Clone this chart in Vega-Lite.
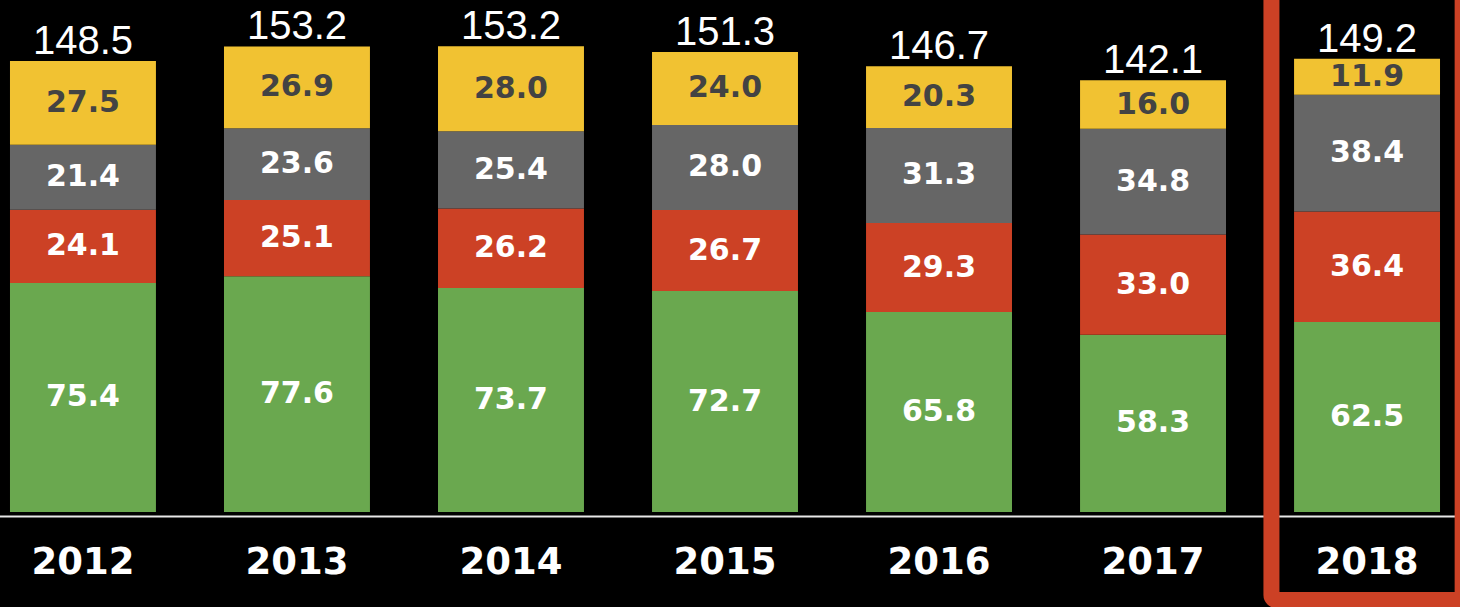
{
  "$schema": "https://vega.github.io/schema/vega-lite/v6.json",
  "width": 1460,
  "height": 512,
  "autosize": {"type": "none"},
  "padding": {"top": 0, "left": 0, "right": 0, "bottom": 95},
  "background": "black",
  "config": {"view": {"stroke": null}},
  "datasets": {
    "segments": [
      {"year": "2012", "series": "S1", "value": 75.4},
      {"year": "2012", "series": "S2", "value": 24.1},
      {"year": "2012", "series": "S3", "value": 21.4},
      {"year": "2012", "series": "S4", "value": 27.5},
      {"year": "2013", "series": "S1", "value": 77.6},
      {"year": "2013", "series": "S2", "value": 25.1},
      {"year": "2013", "series": "S3", "value": 23.6},
      {"year": "2013", "series": "S4", "value": 26.9},
      {"year": "2014", "series": "S1", "value": 73.7},
      {"year": "2014", "series": "S2", "value": 26.2},
      {"year": "2014", "series": "S3", "value": 25.4},
      {"year": "2014", "series": "S4", "value": 28.0},
      {"year": "2015", "series": "S1", "value": 72.7},
      {"year": "2015", "series": "S2", "value": 26.7},
      {"year": "2015", "series": "S3", "value": 28.0},
      {"year": "2015", "series": "S4", "value": 24.0},
      {"year": "2016", "series": "S1", "value": 65.8},
      {"year": "2016", "series": "S2", "value": 29.3},
      {"year": "2016", "series": "S3", "value": 31.3},
      {"year": "2016", "series": "S4", "value": 20.3},
      {"year": "2017", "series": "S1", "value": 58.3},
      {"year": "2017", "series": "S2", "value": 33.0},
      {"year": "2017", "series": "S3", "value": 34.8},
      {"year": "2017", "series": "S4", "value": 16.0},
      {"year": "2018", "series": "S1", "value": 62.5},
      {"year": "2018", "series": "S2", "value": 36.4},
      {"year": "2018", "series": "S3", "value": 38.4},
      {"year": "2018", "series": "S4", "value": 11.9}
    ],
    "totals": [
      {"year": "2012", "total": 148.5},
      {"year": "2013", "total": 153.2},
      {"year": "2014", "total": 153.2},
      {"year": "2015", "total": 151.3},
      {"year": "2016", "total": 146.7},
      {"year": "2017", "total": 142.1},
      {"year": "2018", "total": 149.2}
    ],
    "highlight": [
      {"year": "2018"}
    ]
  },
  "encoding": {
    "x": {
      "field": "year",
      "type": "nominal",
      "sort": ["2012", "2013", "2014", "2015", "2016", "2017", "2018"],
      "scale": {"range": [-5, 1455], "paddingInner": 0.318, "paddingOuter": 0.07},
      "axis": {
        "title": null,
        "labelAngle": 0,
        "ticks": false,
        "grid": false,
        "offset": 4,
        "domainColor": "#e8e8e8",
        "domainWidth": 2,
        "labelColor": "white",
        "labelFont": "DejaVu Sans",
        "labelFontWeight": "bold",
        "labelFontSize": 37,
        "labelPadding": 28
      }
    }
  },
  "layer": [
    {
      "data": {"name": "segments"},
      "mark": {"type": "bar"},
      "encoding": {
        "y": {
          "field": "value",
          "type": "quantitative",
          "stack": "zero",
          "scale": {"domain": [0, 168.5], "nice": false, "zero": false},
          "axis": null
        },
        "order": {"field": "series", "sort": "ascending"},
        "color": {
          "field": "series",
          "type": "nominal",
          "scale": {"domain": ["S1", "S2", "S3", "S4"], "range": ["#6aa84f", "#cc4125", "#666666", "#f1c232"]},
          "legend": null
        }
      }
    },
    {
      "data": {"name": "segments"},
      "mark": {"type": "text", "font": "DejaVu Sans", "fontWeight": "bold", "fontSize": 30, "baseline": "middle", "align": "center"},
      "encoding": {
        "y": {"field": "value", "type": "quantitative", "stack": "zero", "bandPosition": 0.5},
        "order": {"field": "series", "sort": "ascending"},
        "text": {"field": "value", "type": "quantitative", "format": ".1f"},
        "color": {
          "condition": {"test": "datum.series === 'S4'", "value": "#434343"},
          "value": "white"
        }
      }
    },
    {
      "data": {"name": "totals"},
      "mark": {"type": "text", "font": "Liberation Sans", "fontSize": 40, "baseline": "alphabetic", "align": "center", "dy": -7, "color": "white"},
      "encoding": {
        "y": {"field": "total", "type": "quantitative"},
        "text": {"field": "total", "type": "quantitative", "format": ".1f"}
      }
    },
    {
      "data": {"name": "highlight"},
      "mark": {"type": "bar", "width": {"band": 1.31}, "fill": null, "fillOpacity": 0, "stroke": "#cc4125", "strokeWidth": 16, "cornerRadius": 5},
      "encoding": {
        "y": {"datum": 175},
        "y2": {"datum": -29}
      }
    }
  ]
}
